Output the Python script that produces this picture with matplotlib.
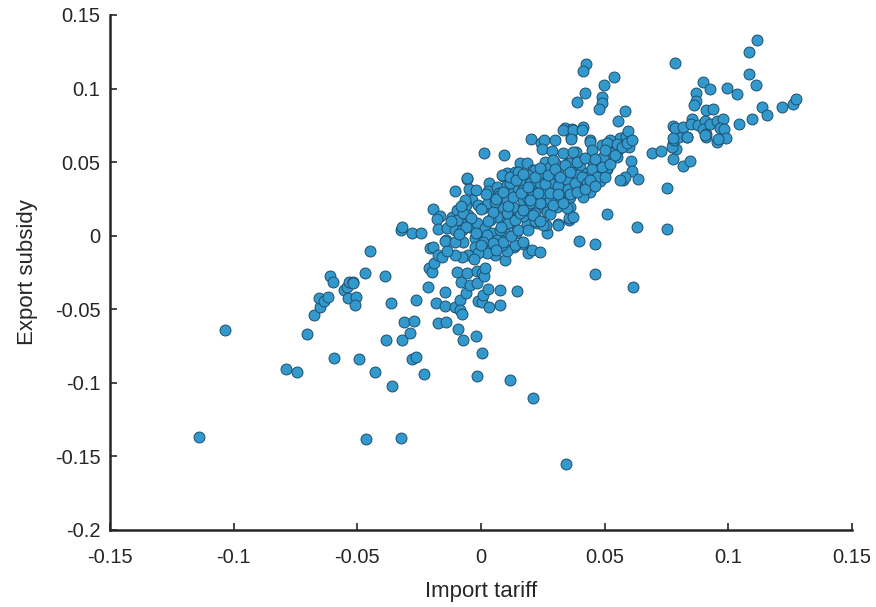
import matplotlib
matplotlib.use("Agg")
import matplotlib.pyplot as plt

# points (import tariff, export subsidy)
import_tariff = [
    -0.114, -0.1035, -0.079, -0.0743, -0.0705, -0.0675, -0.0651, -0.0654, -0.0634, -0.0620,
    -0.0611, -0.0597, -0.0594, -0.0554, -0.0543, -0.0537, -0.0533, -0.0516, -0.0519, -0.0507,
    -0.0508, -0.0492, -0.0469, -0.0464, -0.0449, -0.0429, -0.0387, -0.0385, -0.0363, -0.0361,
    -0.0323, -0.0322, -0.0321, -0.0310, -0.0287, -0.0280, -0.0263, -0.0280, -0.0270, -0.0264,
    -0.0232, -0.0213, -0.0206, -0.0193, -0.0209, -0.0199, -0.0189, -0.0181, -0.0174, -0.0173,
    -0.0159, -0.0146, -0.0144, -0.0142, -0.0105, -0.0098, -0.0094, -0.0085, -0.0085, -0.0081,
    -0.0076, -0.0072, -0.0061, -0.0055, -0.0044, -0.0020, -0.0017, -0.0017, -0.0015, -0.0013,
    0.0003, 0.0003, 0.0004, 0.0009, 0.0012, 0.0016, 0.0030, 0.0032, 0.0077, 0.0078,
    0.0097, 0.0117, 0.0147, 0.0211, 0.0344, 0.0398, 0.0460, 0.0461, 0.0615, 0.0630,
    0.0753, 0.0752, 0.0508,
    # lower centre
    0.0266, 0.0313, 0.0356, 0.0262, 0.0171, 0.0133, 0.0106, 0.0189, 0.0207, 0.0239,
    0.0140, 0.0097, 0.0117, 0.0185, 0.0225,
    # right of cluster
    0.0693, 0.0728, 0.0778, 0.0789, 0.0771, 0.0780, 0.0801, 0.0832, 0.0778, 0.0817,
    0.0846, 0.0906, 0.0910, 0.0953, 0.0607, 0.0609, 0.0634, 0.0573, 0.0582, 0.0526,
    0.0555, 0.0528, 0.0600, 0.0562, 0.0586, 0.0501, 0.0497, 0.0508, 0.0481, 0.0481,
    0.0488,
    # upper arm
    0.0425, 0.0411, 0.0539, 0.0499, 0.0421, 0.0387, 0.0488, 0.0488, 0.0478, 0.0584,
    0.0555, 0.0593, 0.0338, 0.0369, 0.0414, 0.0786, 0.0778, 0.0784, 0.0364, 0.0441,
    0.0522,
    # far right
    0.1115, 0.1084, 0.1085, 0.1112, 0.0896, 0.0926, 0.0994, 0.1034, 0.0871, 0.0869,
    0.0861, 0.0910, 0.0937, 0.1135, 0.1156, 0.1218, 0.1260, 0.1274, 0.1097, 0.1044,
    0.0818, 0.0852, 0.0848, 0.0879, 0.0906, 0.0899, 0.0910, 0.0926, 0.0956, 0.0977,
    0.0966, 0.0984, 0.0991, 0.0960, 0.0906, 0.0832, 0.0778,
    # cluster left half
    0.0013, 0.0093, -0.0055, -0.0105, -0.0047, -0.0020, 0.0034, 0.0090, 0.0106, 0.0027,
    0.0063, 0.0074, 0.0101, -0.0195, -0.0166, -0.0176, -0.0172, -0.0321, -0.0244, -0.0143,
    -0.0118, -0.0098, -0.0074, -0.0051, -0.0038, -0.0061, -0.0072, -0.0020, 0.0025, 0.0016,
    0.0077, 0.0084,
    # cluster right half
    0.0202, 0.0243, 0.0256, 0.0299, 0.0248, 0.0286, 0.0333, 0.0371, 0.0364, 0.0407,
    0.0333, 0.0384, 0.0441, 0.0508, 0.0448,
    0.0158, 0.0185, 0.0259, 0.0299, 0.0353, 0.0400, 0.0454, 0.0478, 0.0427, 0.0367, 0.0313,
    0.0104, 0.0137, 0.0211, 0.0252, 0.0185, 0.0225, 0.0286, 0.0333, 0.0373, 0.0414, 0.0448, 0.0441,
    0.0104, 0.0158, 0.0211, 0.0265, 0.0299, 0.0360, 0.0407, 0.0353, 0.0319, 0.0252, 0.0171,
    0.0117, 0.0090, 0.0144, 0.0198, 0.0252, 0.0306, 0.0360,
    0.0357, 0.0313, 0.0252, 0.0218, 0.0169, 0.0131, 0.0097,
    # cluster core
    -0.0058, -0.0098, -0.0072, -0.0065, -0.0011, 0.0009, 0.0030, 0.0057, 0.0077, 0.0104,
    0.0131, 0.0151, 0.0117, 0.0084, 0.0117, 0.0151, 0.0185, 0.0165, 0.0185,
    -0.0139, -0.0105, -0.0078, -0.0044, -0.0017, 0.0016, 0.0043, 0.0077, 0.0110, 0.0138,
    0.0158, 0.0185, 0.0131, 0.0104, 0.0063, 0.0036,
    -0.0146, -0.0105, -0.0024, 0.0023, 0.0063, 0.0090, 0.0138, 0.0171,
    0.0218, 0.0191, 0.0245, 0.0279, 0.0292, 0.0373, 0.0360, 0.0481, 0.0508, 0.0434,
    0.0393, 0.0347, 0.0306, 0.0279, 0.0239, 0.0198, 0.0171, 0.0211, 0.0252, 0.0333,
    0.0373, 0.0407, 0.0414, 0.0360, 0.0319, 0.0279, 0.0239, 0.0198, 0.0171, 0.0218,
    0.0266, 0.0347, 0.0373, 0.0562, 0.0549, 0.0495,
    -0.0024, 0.0009, 0.0050, 0.0057, 0.0023, -0.0011, -0.0051, -0.0078, -0.0105, -0.0139,
    # dense band, filled in
    -0.012, -0.008, -0.004, 0.000, 0.002, 0.005, 0.006, 0.009, 0.011, 0.013,
    0.014, 0.016, 0.017, 0.019, 0.020, 0.022, 0.023, 0.024, 0.026, 0.027,
    0.028, 0.030, 0.031, 0.032, 0.034, 0.035, 0.036, 0.038, 0.039, 0.041,
    0.042, 0.043, 0.045, 0.046, 0.047, 0.049, 0.050, 0.052, 0.054, 0.055,
    0.057, 0.059, 0.061, 0.003, 0.008, -0.002, 0.012, 0.015, -0.006, -0.009,
    0.000, 0.006, -0.003, 0.019, 0.021, 0.024, 0.028, 0.029, 0.033, 0.031,
    0.036, 0.039, 0.042, 0.044, 0.046, 0.050,
]
export_subsidy = [
    -0.137, -0.064, -0.0904, -0.0927, -0.0666, -0.0537, -0.0483, -0.0424, -0.0446, -0.0417,
    -0.0274, -0.0313, -0.0831, -0.0371, -0.0351, -0.0421, -0.0317, -0.0313, -0.0324, -0.0415,
    -0.0473, -0.0836, -0.0256, -0.1382, -0.0102, -0.0927, -0.0272, -0.0711, -0.0458, -0.1020,
    0.0039, -0.1375, -0.0707, -0.0587, -0.0664, -0.0840, -0.0825, 0.0020, -0.0580, -0.0437,
    -0.0942, -0.0351, -0.0086, -0.0075, -0.0222, -0.0245, -0.0184, -0.0460, -0.0593, -0.0131,
    -0.0147, -0.0381, -0.0476, -0.0589, -0.0487, -0.0249, -0.0632, -0.0437, -0.0505, -0.0317,
    -0.0532, -0.0707, -0.0387, -0.0256, -0.0337, -0.0680, -0.0320, -0.0954, -0.0238, -0.0442,
    -0.0449, -0.0256, -0.0800, -0.0403, -0.0274, -0.0222, -0.0364, -0.0483, -0.0369, -0.0471,
    -0.0165, -0.0983, -0.0376, -0.1101, -0.1552, -0.0036, -0.0056, -0.0260, -0.0349, 0.0057,
    0.0044, 0.0322, 0.0145,
    0.0016, 0.0080, 0.0107, 0.0075, -0.0058, -0.0075, -0.0104, -0.0120, -0.0097, -0.0113,
    0.0016, 0.0016, 0.0084, 0.0080, 0.0088,
    0.0560, 0.0574, 0.0628, 0.0587, 0.0605, 0.0651, 0.0673, 0.0669, 0.0519, 0.0474,
    0.0510, 0.0707, 0.0669, 0.0639, 0.0510, 0.0442, 0.0385, 0.0379, 0.0401, 0.0639,
    0.0583, 0.0564, 0.0605, 0.0662, 0.0678, 0.0537, 0.0492, 0.0451, 0.0435, 0.0374,
    0.0617,
    0.1165, 0.1122, 0.1081, 0.1024, 0.0968, 0.0909, 0.0941, 0.0900, 0.0863, 0.0848,
    0.0780, 0.0714, 0.0730, 0.0725, 0.0741, 0.1176, 0.0746, 0.0730, 0.0669, 0.0651,
    0.0651,
    0.1330, 0.1251, 0.1099, 0.1027, 0.1043, 0.0999, 0.1004, 0.0965, 0.0968, 0.0916,
    0.0888, 0.0855, 0.0861, 0.0873, 0.0823, 0.0873, 0.0895, 0.0927, 0.0791, 0.0757,
    0.0742, 0.0790, 0.0756, 0.0754, 0.0778, 0.0727, 0.0693, 0.0761, 0.0777, 0.0793,
    0.0734, 0.0727, 0.0666, 0.0655, 0.0683, 0.0672, 0.0661,
    0.0564, 0.0549, 0.0387, 0.0304, 0.0320, 0.0311, 0.0360, 0.0406, 0.0413, 0.0306,
    0.0333, 0.0288, 0.0292, 0.0179, 0.0136, 0.0111, 0.0048, 0.0057, 0.0016, -0.0029,
    0.0129, 0.0175, 0.0129, 0.0141, 0.0243, 0.0209, -0.0041, -0.0011, -0.0002, -0.0075,
    -0.0029, -0.0063,
    0.0655, 0.0632, 0.0651, 0.0651, 0.0591, 0.0578, 0.0719, 0.0719, 0.0657, 0.0719,
    0.0560, 0.0571, 0.0639, 0.0628, 0.0583,
    0.0492, 0.0492, 0.0503, 0.0492, 0.0492, 0.0469, 0.0496, 0.0428, 0.0424, 0.0435, 0.0428,
    0.0424, 0.0435, 0.0447, 0.0435, 0.0379, 0.0379, 0.0379, 0.0367, 0.0379, 0.0344, 0.0356, 0.0299,
    0.0345, 0.0345, 0.0311, 0.0322, 0.0299, 0.0299, 0.0288, 0.0243, 0.0265, 0.0254, 0.0243,
    0.0265, 0.0197, 0.0175, 0.0175, 0.0197, 0.0197, 0.0197,
    0.0118, 0.0073, 0.0073, 0.0102, 0.0134, 0.0107, 0.0095,
    0.0390, 0.0107, 0.0152, 0.0243, 0.0209, 0.0187, 0.0221, 0.0232, 0.0277, 0.0243,
    0.0288, 0.0322, 0.0356, 0.0412, 0.0401, 0.0435, 0.0401, 0.0356, 0.0265,
    0.0050, 0.0039, 0.0039, 0.0061, 0.0084, 0.0050, 0.0016, 0.0039, 0.0084, 0.0107,
    0.0152, 0.0175, 0.0197, 0.0152, 0.0129, 0.0107,
    -0.0034, -0.0041, -0.0018, 0.0005, -0.0029, -0.0041, -0.0063, -0.0041,
    0.0447, 0.0413, 0.0424, 0.0469, 0.0515, 0.0571, 0.0492, 0.0424, 0.0458, 0.0401,
    0.0413, 0.0379, 0.0390, 0.0356, 0.0356, 0.0356, 0.0311, 0.0288, 0.0288, 0.0311,
    0.0322, 0.0345, 0.0265, 0.0265, 0.0243, 0.0243, 0.0220, 0.0220, 0.0175, 0.0152,
    0.0163, 0.0186, 0.0129, 0.0379, 0.0537, 0.0537,
    -0.0075, -0.0041, -0.0052, -0.0131, -0.0120, -0.0120, -0.0131, -0.0143, -0.0131, -0.0102,
    0.010, 0.020, 0.012, 0.018, 0.028, 0.016, 0.025, 0.030, 0.020, 0.026,
    0.038, 0.029, 0.042, 0.033, 0.024, 0.040, 0.029, 0.046, 0.035, 0.041,
    0.029, 0.045, 0.034, 0.040, 0.048, 0.032, 0.043, 0.036, 0.050, 0.040,
    0.053, 0.036, 0.045, 0.052, 0.040, 0.047, 0.058, 0.049, 0.055, 0.062,
    0.060, 0.063, 0.065, 0.010, 0.006, 0.002, 0.000, 0.004, 0.006, 0.001,
    -0.006, -0.010, -0.016, 0.004, 0.014, 0.010, 0.015, 0.021, 0.022, 0.028,
    0.028, 0.030, 0.032, 0.038, 0.034, 0.040,
]

x_ticks = [-0.15, -0.1, -0.05, 0, 0.05, 0.1, 0.15]
x_labels = ['-0.15', '-0.1', '-0.05', '0', '0.05', '0.1', '0.15']
y_ticks = [-0.2, -0.15, -0.1, -0.05, 0, 0.05, 0.1, 0.15]
y_labels = ['-0.2', '-0.15', '-0.1', '-0.05', '0', '0.05', '0.1', '0.15']

plt.rcParams['font.family'] = ['Liberation Sans', 'DejaVu Sans']

fig = plt.figure(figsize=(8.76, 6.07), dpi=100)
ax = fig.add_axes([0.1256, 0.1269, 0.8470, 0.8484])

ax.scatter(import_tariff, export_subsidy, s=62, c='#3399cc',
           edgecolors='#1d4f6e', linewidths=0.7, zorder=3)

ax.set_xlim(-0.15, 0.15)
ax.set_ylim(-0.2, 0.15)
ax.set_xticks(x_ticks)
ax.set_xticklabels(x_labels)
ax.set_yticks(y_ticks)
ax.set_yticklabels(y_labels)

for side in ['top', 'right']:
    ax.spines[side].set_visible(False)
for side in ['left', 'bottom']:
    ax.spines[side].set_linewidth(1.8)
    ax.spines[side].set_color('#262626')

ax.tick_params(direction='in', length=5, width=1.2, colors='#262626',
               labelsize=14.5)
ax.tick_params(axis='x', pad=13)
ax.tick_params(axis='y', pad=7)
ax.set_xlabel('Import tariff', fontsize=16, color='#262626', labelpad=10)
ax.set_ylabel('Export subsidy', fontsize=16, color='#262626', labelpad=12)

fig.savefig('out.png', dpi=100)
